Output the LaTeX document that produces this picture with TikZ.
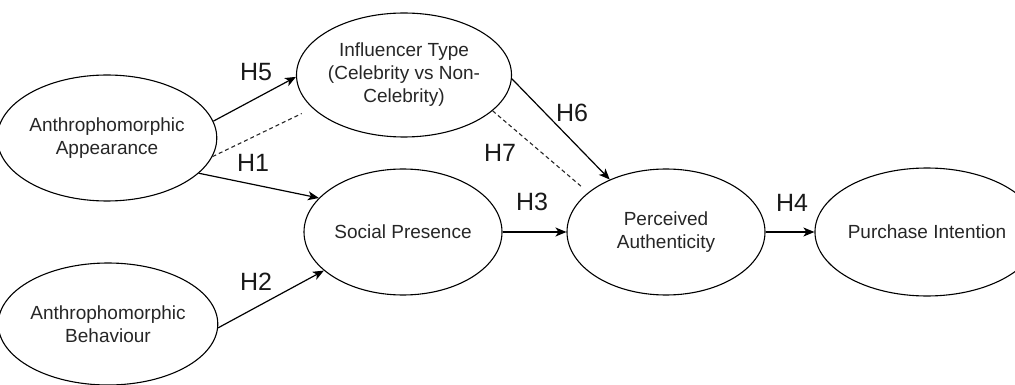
\documentclass[tikz,border=0pt]{standalone}
\usepackage{fontspec}
\setmainfont{Liberation Sans}
\usetikzlibrary{shapes.geometric,arrows.meta}
\begin{document}
\begin{tikzpicture}[x=1pt,y=-1pt,
  construct/.style={draw=black,line width=1.1pt,ellipse,minimum width=198pt,minimum height=126pt,inner sep=0pt,align=center,text=black!85,font=\fontsize{19}{23}\selectfont},
  arr/.style={draw=black,line width=1.2pt,-{Stealth[length=11pt,width=9pt,inset=3pt]}},
  dsh/.style={draw=black!85,line width=1.1pt,dash pattern=on 4pt off 3pt},
  hlab/.style={inner sep=0pt,text=black!90,font=\fontsize{25}{29}\selectfont}]
\useasboundingbox (0,0) rectangle (1015,385);
\node[construct,minimum width=200pt] (app) at (107,138) {Anthrophomorphic\\Appearance};
\node[construct,minimum width=200pt,minimum height=122pt] (beh) at (108,324) {Anthrophomorphic\\Behaviour};
\node[construct,minimum height=124pt] (inf) at (404,75) {Influencer Type\\(Celebrity vs Non-\\Celebrity)};
\node[construct] (soc) at (403,232) {Social Presence};
\node[construct] (per) at (666,232) {Perceived\\Authenticity};
\node[construct,minimum height=128pt] (pur) at (927,232) {Purchase Intention};
\draw[arr] (app.9) -- (inf.181);
\draw[dsh,shorten >=12pt] (app.-10) -- (inf.200);
\draw[arr] (app.-21.6) -- (soc.158.3);
\draw[arr] (beh.-2) -- (soc.206.6);
\draw[arr] (soc.east) -- (per.west);
\draw[arr] (inf.-2) -- (per.137);
\draw[dsh,shorten >=7pt] (inf.-22) -- (per.153);
\draw[arr] (per.east) -- (pur.west);
\node[hlab] (h5) at (256,72) {H5};
\node[hlab] (h1) at (253,163) {H1};
\node[hlab] (h2) at (256,282) {H2};
\node[hlab] (h3) at (532,202) {H3};
\node[hlab] (h6) at (572,113) {H6};
\node[hlab] (h7) at (500,153) {H7};
\node[hlab] (h4) at (792,203) {H4};
\end{tikzpicture}
\end{document}
